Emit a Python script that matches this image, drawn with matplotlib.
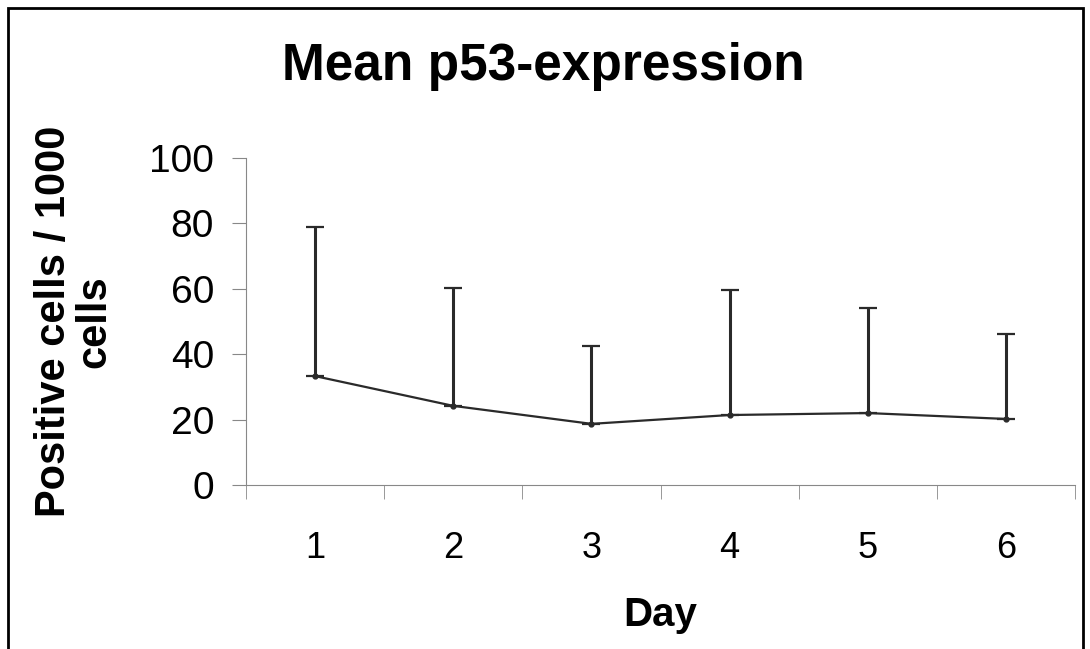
import matplotlib.pyplot as plt
from matplotlib.patches import Rectangle

days = [1, 2, 3, 4, 5, 6]
mean_vals = [33.3, 24.2, 18.7, 21.4, 22.0, 20.2]
upper_err = [45.6, 36.0, 23.8, 38.2, 32.1, 26.0]
y_ticks = [0, 20, 40, 60, 80, 100]

plt.rcParams['font.family'] = ['Liberation Sans', 'DejaVu Sans']

fig = plt.figure(figsize=(10.9, 6.49), dpi=100)
ax = fig.add_axes([246 / 1090, 1 - 485 / 649, (1075 - 246) / 1090, (485 - 158) / 649])

# only the upper half of each error bar
ax.errorbar(days, mean_vals, yerr=[[0] * 6, upper_err], color='#2a2a2a', lw=1.6,
            elinewidth=2.2, capsize=6.5, capthick=1.6, marker='o', ms=3.5)

ax.set_xlim(0.5, 6.5)
ax.set_ylim(0, 100)
ax.set_yticks(y_ticks)
ax.set_xticks(days)
ax.set_xticks([d + 0.5 for d in [0] + days], minor=True)
ax.tick_params(axis='x', which='major', length=0, pad=33, labelsize=26)
ax.tick_params(axis='x', which='minor', length=10, color='#888888', direction='out')
ax.tick_params(axis='y', length=10, color='#888888', labelsize=28, pad=13)
for s in ['top', 'right']:
    ax.spines[s].set_visible(False)
for s in ['left', 'bottom']:
    ax.spines[s].set_color('#888888')

ax.set_xlabel('Day', fontsize=29, fontweight='bold', labelpad=22)
ax.set_ylabel('Positive cells / 1000\ncells', fontsize=30, fontweight='bold', labelpad=25,
              linespacing=1.0)

fig.text(543 / 1090, 1 - 80 / 649, 'Mean p53-expression', ha='center', va='baseline',
         fontsize=37, fontweight='bold')

fig.patches.append(Rectangle((8 / 1090, -0.1), (1083 - 8) / 1090, 1.1 - 8 / 649,
                             transform=fig.transFigure, fill=False, lw=2, ec='black'))

fig.savefig('out.png', dpi=100)
